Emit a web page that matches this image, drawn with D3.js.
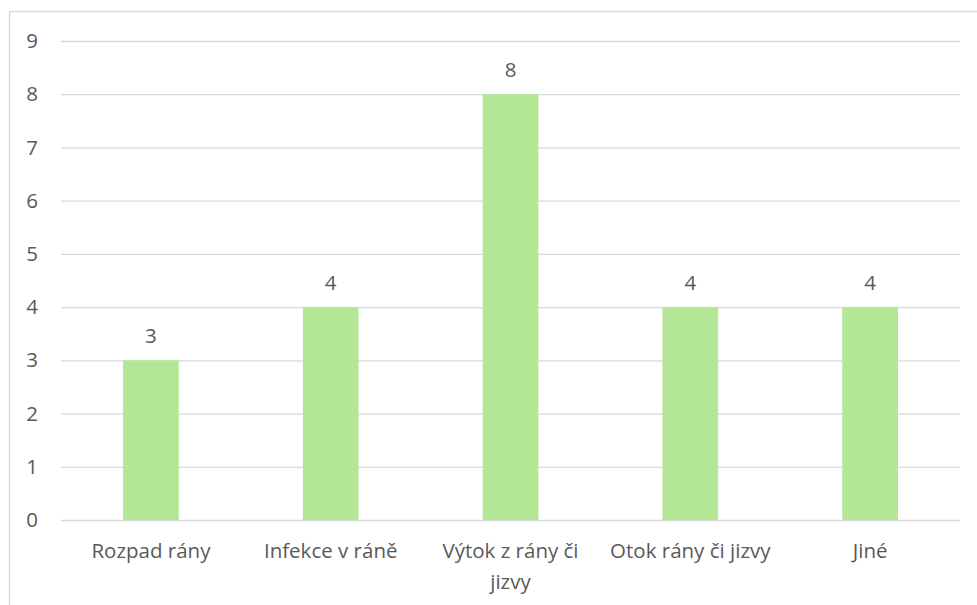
<!DOCTYPE html>
<html>
<head>
<meta charset="utf-8">
<script src="https://cdn.jsdelivr.net/npm/d3@7"></script>
<style>
  body { margin: 0; background: #fff; }
  text { font-family: "Open Sans", Lato, sans-serif; fill: #595959; }
</style>
</head>
<body>
<script>
// data
const categories = ["Rozpad rány", "Infekce v ráně", "Výtok z rány či jizvy", "Otok rány či jizvy", "Jiné"];
const values = [3, 4, 8, 4, 4];
const yTicks = [0, 1, 2, 3, 4, 5, 6, 7, 8, 9];

const W = 977, H = 605;
const FONT = "'Open Sans', Lato, sans-serif";
const FS = 20.5;
var margin = {top: 41, right: 17, bottom: 85, left: 61},
    width = W - margin.left - margin.right,
    height = H - margin.top - margin.bottom;

var svg = d3.select("body").append("svg")
    .attr("width", W)
    .attr("height", H);

// chart area border (runs off right/bottom edge like the screenshot)
svg.append("rect")
    .attr("x", 9.5).attr("y", 11.5)
    .attr("width", W + 20).attr("height", H + 20)
    .attr("fill", "none")
    .attr("stroke", "#d9d9d9")
    .attr("stroke-width", 1.5);

var g = svg.append("g")
    .attr("transform", "translate(" + margin.left + "," + margin.top + ")");

var x = d3.scaleBand().domain(categories).range([0, width]).paddingInner(0.69).paddingOuter(0.345);
var y = d3.scaleLinear().domain([0, 9]).range([height, 0]);

// gridlines
g.selectAll("line.grid").data(yTicks).enter()
    .append("line")
    .attr("class", "grid")
    .attr("x1", 0).attr("x2", width)
    .attr("y1", d => y(d) + 0.5).attr("y2", d => y(d) + 0.5)
    .attr("stroke", "#d9d9d9")
    .attr("stroke-width", 1.3);

// y axis labels
var yAxis = d3.axisLeft(y).tickValues(yTicks).tickSize(0).tickPadding(23);
g.append("g").attr("class", "y axis").call(yAxis)
    .call(s => s.select(".domain").remove())
    .selectAll("text")
    .attr("font-size", FS)
    .style("font-family", FONT)
    .attr("fill", "#595959");

// bars
g.selectAll("rect.bar").data(values).enter()
    .append("rect")
    .attr("class", "bar")
    .attr("x", (d, i) => x(categories[i]))
    .attr("y", d => y(d))
    .attr("width", x.bandwidth())
    .attr("height", d => y(0) - y(d))
    .attr("fill", "#b3e795");

// value labels
g.selectAll("text.val").data(values).enter()
    .append("text")
    .attr("class", "val")
    .attr("x", (d, i) => x(categories[i]) + x.bandwidth() / 2)
    .attr("y", d => y(d) - 17)
    .attr("text-anchor", "middle")
    .attr("font-size", FS)
    .text(d => d);

// category labels, wrapped to band width
var step = x.step();
var xAxis = d3.axisBottom(x).tickSize(0).tickPadding(0);
var xg = g.append("g").attr("class", "x axis")
    .attr("transform", "translate(0," + height + ")")
    .call(xAxis);
xg.select(".domain").remove();
xg.selectAll("text")
    .attr("font-size", FS)
    .style("font-family", FONT)
    .attr("fill", "#595959")
    .attr("dy", null)
    .attr("y", 38)
    .each(function(d) { wrap(d3.select(this), step - 5); });

function wrap(text, maxW) {
    var words = text.text().split(" "), line = [], lineNo = 0;
    text.text(null);
    var tspan = text.append("tspan").attr("x", 0).attr("y", 38);
    words.forEach(w => {
        line.push(w);
        tspan.text(line.join(" "));
        if (tspan.node().getComputedTextLength() > maxW && line.length > 1) {
            line.pop();
            tspan.text(line.join(" "));
            line = [w];
            lineNo++;
            tspan = text.append("tspan").attr("x", 0).attr("y", 38 + lineNo * 31).text(w);
        }
    });
}
</script>
</body>
</html>
